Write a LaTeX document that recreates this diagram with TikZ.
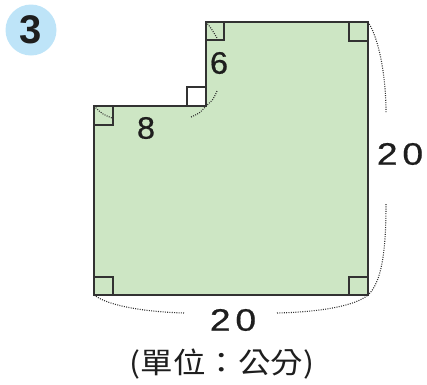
\documentclass[tikz,border=0pt]{standalone}
\usepackage{fontspec}
\setmainfont{Liberation Sans}
\newfontfamily\digitfont[FakeBold=0.6]{Liberation Sans}
\newfontfamily\cjkfont{Noto Sans CJK TC}
\definecolor{shapegreen}{RGB}{205,230,196}
\definecolor{badgeblue}{RGB}{190,228,248}
\definecolor{edgegray}{RGB}{50,50,50}
\definecolor{inkblack}{RGB}{30,30,30}
\tikzset{
  edgeline/.style={draw=edgegray, line width=1.9pt, line join=miter},
  anglebox/.style={draw=edgegray, line width=1.2pt},
  dimline/.style={draw=edgegray, line width=1.1pt, dash pattern=on 1pt off 1.3pt},
  numlabel/.style={text=inkblack, inner sep=0pt, font=\digitfont\fontsize{31}{33}\selectfont},
  biglabel/.style={text=inkblack, inner sep=0pt, font=\digitfont\fontsize{31}{33}\selectfont},
}
\begin{document}
\begin{tikzpicture}[x=1pt, y=-1pt]
\useasboundingbox (0,0) rectangle (427,384);
% corners
\coordinate (A) at (94,106);
\coordinate (B) at (206,106);
\coordinate (C) at (206,22);
\coordinate (D) at (368,22);
\coordinate (E) at (368,295);
\coordinate (F) at (94,295);
% shape
\fill[shapegreen] (A) -- (B) -- (C) -- (D) -- (E) -- (F) -- cycle;
% right-angle marks
\draw[anglebox] (94,125) -- (113,125) -- (113,106);
\draw[anglebox] (206,40) -- (224,40) -- (224,22);
\draw[anglebox] (349,22) -- (349,41) -- (368,41);
\draw[anglebox] (349,295) -- (349,277) -- (368,277);
\draw[anglebox] (94,277) -- (113,277) -- (113,295);
\draw[anglebox] (187,106) -- (187,87) -- (206,87) -- (206,106);
% dimension arcs
\coordinate (s6a) at (217,38);
\coordinate (s6b) at (217,91);
\coordinate (s8a) at (112,118);
\coordinate (s8b) at (191,117);
\coordinate (srA) at (386,112);
\coordinate (srB) at (386,204);
\coordinate (sbA) at (184,313);
\coordinate (sbB) at (277,313);
\draw[dimline] (C) .. controls (211,28) .. (s6a);
\draw[dimline] (s6b) .. controls (213,100) .. (B);
\draw[dimline] (A) .. controls (102,114) .. (s8a);
\draw[dimline] (s8b) .. controls (200,113) .. (B);
\draw[dimline] (D) .. controls (380,40) and (386,80) .. (srA);
\draw[dimline] (srB) .. controls (386,250) and (382,282) .. (E);
\draw[dimline] (F) .. controls (110,307) and (150,312) .. (sbA);
\draw[dimline] (sbB) .. controls (320,312) and (355,306) .. (E);
% outline
\draw[edgeline] (A) -- (B) -- (C) -- (D) -- (E) -- (F) -- cycle;
% labels
\node[numlabel] (l6) at (219,63) {\scalebox{1.05}[1]{6}};
\node[numlabel] (l8) at (146,128) {\scalebox{1.05}[1]{8}};
\node[biglabel] (lr) at (400,154) {\scalebox{1.2}[1]{2\kern4pt 0}};
\node[biglabel] (lb) at (233,320) {\scalebox{1.2}[1]{2\kern4pt 0}};
\node[text=inkblack, inner sep=0pt, font=\cjkfont\fontsize{29}{31}\selectfont] (unit) at (222,364) {\scalebox{1.12}[1]{(單位：公分)}};
% badge
\node[circle, fill=badgeblue, minimum size=51pt, inner sep=0pt, text=inkblack, font=\bfseries\fontsize{40}{42}\selectfont] (badge) at (31,30) {3};
\end{tikzpicture}
\end{document}
